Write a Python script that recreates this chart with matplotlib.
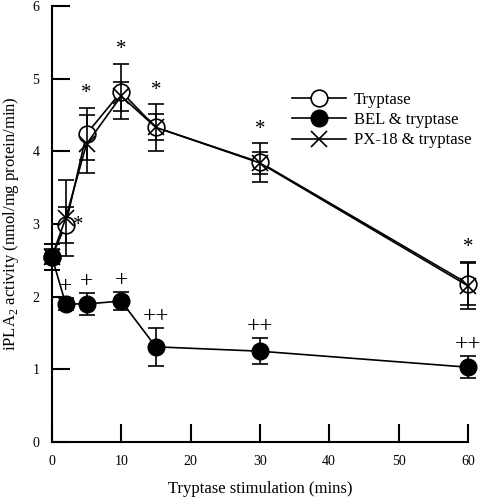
"""Recreate the iPLA2 activity time course chart."""

import matplotlib.pyplot as plt

plt.rcParams["font.family"] = ["Liberation Serif", "DejaVu Serif"]
plt.rcParams["mathtext.fontset"] = "custom"
plt.rcParams["mathtext.rm"] = "Liberation Serif"

minutes = [0, 2, 5, 10, 15, 30, 60]
tryptase = [2.55, 2.99, 4.24, 4.82, 4.33, 3.85, 2.18]
tryptase_err = [0.18, 0.25, 0.36, 0.38, 0.32, 0.27, 0.30]
bel = [2.55, 1.90, 1.90, 1.94, 1.31, 1.25, 1.03]
bel_err = [0.10, 0.08, 0.15, 0.13, 0.26, 0.18, 0.15]
px18 = [2.55, 3.08, 4.10, 4.76, 4.33, 3.84, 2.15]
px18_err = [0.18, 0.52, 0.40, 0.20, 0.18, 0.15, 0.32]

star_x = [5, 10, 15, 30, 60]
star_y = [4.66, 5.27, 4.71, 4.17, 2.54]
plus_x = [2, 5, 10, 15, 30, 60]
plus_y = [2.00, 2.06, 2.08, 1.58, 1.44, 1.20]
plus_text = ["+", "+", "+", "++", "++", "++"]

fig = plt.figure(figsize=(4.8, 4.98), dpi=100)
axis = fig.add_axes([0.108, 0.1124, 0.8667, 0.8755])

style = dict(color="black", linewidth=1.2, capsize=6, elinewidth=1.2,
             capthick=1.2, clip_on=False)
axis.errorbar(minutes, tryptase, yerr=tryptase_err, marker="o", markersize=12,
              markerfacecolor="white", markeredgewidth=1.2, label="Tryptase",
              zorder=3, **style)
axis.errorbar(minutes, bel, yerr=bel_err, marker="o", markersize=12,
              markerfacecolor="black", label="BEL & tryptase", zorder=3, **style)
axis.errorbar(minutes, px18, yerr=px18_err, marker="x", markersize=12,
              markeredgewidth=1.2, label="PX-18 & tryptase", zorder=4, **style)

for x, y in zip(star_x, star_y):
    axis.text(x, y, "*", ha="center", va="bottom", fontsize=15)
axis.text(3.0, 2.98, "*", ha="left", va="center", fontsize=15)
for x, y, text in zip(plus_x, plus_y, plus_text):
    axis.text(x, y, text, ha="center", va="bottom", fontsize=17)

axis.set_xlim(0, 60)
axis.set_ylim(0, 6)
axis.set_xticks(range(0, 61, 10))
axis.set_yticks(range(0, 7))
for side in ("top", "right"):
    axis.spines[side].set_visible(False)
for side in ("left", "bottom"):
    axis.spines[side].set_linewidth(1.5)
axis.tick_params(direction="in", length=13, width=1.5, labelsize=10, pad=9)
axis.set_xlabel("Tryptase stimulation (mins)", fontsize=12, labelpad=10)
axis.set_ylabel("iPLA$_2$ activity (nmol/mg protein/min)", fontsize=12, labelpad=8)

handles, labels = axis.get_legend_handles_labels()
handles = [h[0] for h in handles]
axis.legend(handles, labels, loc="upper right", bbox_to_anchor=(1.045, 0.837),
            frameon=False, fontsize=12, handlelength=3.2, handletextpad=0.5,
            labelspacing=0.25)

fig.savefig("out.png", dpi=100)
